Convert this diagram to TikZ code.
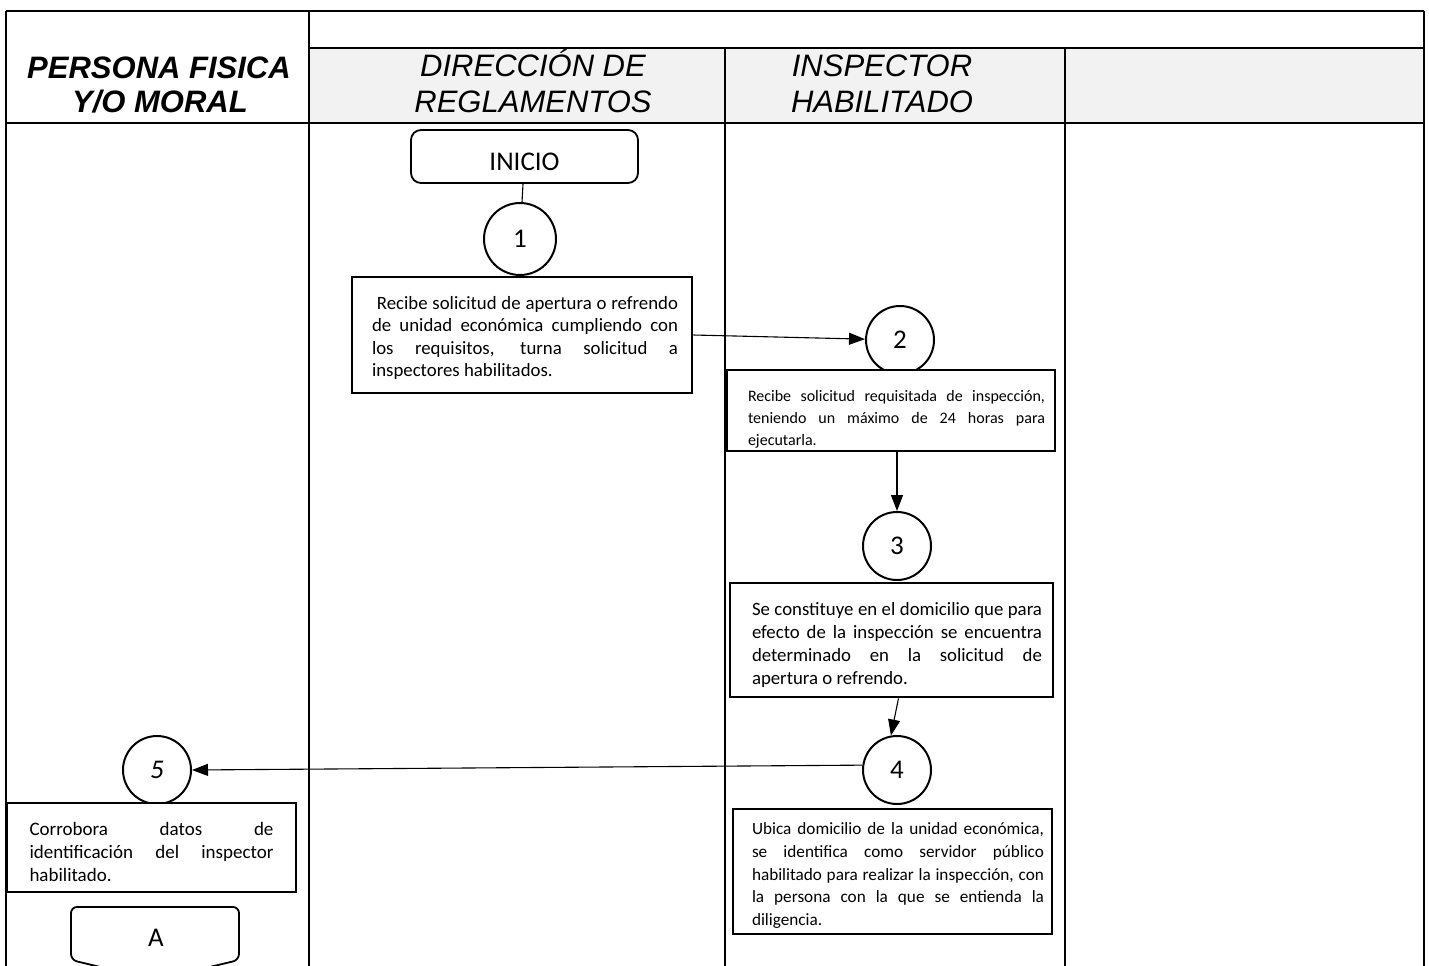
\documentclass[tikz,border=0pt]{standalone}
\usepackage{fontspec}
\setmainfont{Carlito}
\newfontfamily\arialfont{Liberation Sans}
\usetikzlibrary{arrows.meta,positioning}
\definecolor{headgray}{HTML}{F2F2F2}
\tolerance=10000 \hbadness=10000 \hyphenpenalty=10000

\begin{document}
\begin{tikzpicture}[x=1pt, y=-1pt,
    grid/.style = {line width=1.6pt},
    head/.style = {inner sep=0pt, anchor=base, font=\arialfont\itshape\fontsize{31}{35}\selectfont},
    main/.style = {draw, circle, fill=white, line width=2pt, minimum size=68pt, inner sep=0pt, font=\fontsize{27}{30}\selectfont},
    task/.style = {draw, fill=white, line width=2.6pt, inner sep=0pt, align=justify},
    pad/.style 2 args = {execute at begin node={\leftskip=#1\noindent\rule{0pt}{#2}}},
    link/.style = {line width=1.1pt},
    flow/.style = {link, -{Triangle[length=16pt, width=12pt]}}]
  \useasboundingbox (0,0) rectangle (1429,966);

  % table
  \fill[headgray] (309,48) rectangle (1424,123);
  \draw[grid] (6,11) -- (1424,11);
  \draw[grid] (309,48) -- (1424,48);
  \draw[grid] (6,123) -- (1424,123);
  \foreach \x in {6,309,1424} \draw[grid] (\x,11) -- (\x,966);
  \foreach \x in {725,1065} \draw[grid] (\x,48) -- (\x,966);

  \node[head, font=\arialfont\bfseries\itshape\fontsize{31}{35}\selectfont] (persona1) at (159,78) {PERSONA FISICA};
  \node[head, font=\arialfont\bfseries\itshape\fontsize{31}{35}\selectfont] (persona2) at (160,112) {Y/O MORAL};
  \node[head] (direccion1) at (533,77) {DIRECCIÓN DE};
  \node[head] (direccion2) at (533,112) {REGLAMENTOS};
  \node[head] (inspector1) at (882,77) {INSPECTOR};
  \node[head] (inspector2) at (882,112) {HABILITADO};

  % flow
  \node[draw, rounded corners=10pt, line width=1.8pt, minimum width=227pt, minimum height=53pt,
        inner sep=0pt, text height=27pt, text depth=0pt, font=\fontsize{27}{30}\selectfont] (inicio) at (524.5,156.5) {INICIO};
  \node[main, minimum size=72pt] (c1) at (520,239) {1};
  \node[main] (c2) at (900,340) {2};
  \node[main] (c3) at (897,546) {3};
  \node[main] (c4) at (897,770) {4};
  \node[main, font=\itshape\fontsize{27}{30}\selectfont] (c5) at (157,770) {5};

  \node[task, pad={6pt}{19pt}, text width=312pt, minimum width=340pt, minimum height=116pt, font=\fontsize{18.8}{22.5}\selectfont] (b1) at (522,335)
    {\ Recibe solicitud de apertura o refrendo\linebreak de unidad económica cumpliendo con\linebreak los requisitos, turna solicitud a\linebreak inspectores habilitados.};
  \node[task, pad={11pt}{29pt}, text width=308pt, minimum width=328pt, minimum height=81pt, font=\fontsize{16}{21.8}\selectfont] (b2) at (891,410.5)
    {Recibe solicitud requisitada de inspección,\linebreak teniendo un máximo de 24 horas para\linebreak ejecutarla.};
  \node[task, pad={11pt}{23pt}, text width=301pt, minimum width=323pt, minimum height=114pt, font=\fontsize{18.8}{23.3}\selectfont] (b3) at (891.5,640)
    {Se constituye en el domicilio que para\linebreak efecto de la inspección se encuentra\linebreak determinado en la solicitud de\linebreak apertura o refrendo.};
  \node[task, pad={11pt}{20pt}, text width=303pt, minimum width=319pt, minimum height=125pt, font=\fontsize{17.2}{22.8}\selectfont] (b4) at (892.5,871.5)
    {Ubica domicilio de la unidad económica,\linebreak se identifica como servidor público\linebreak habilitado para realizar la inspección, con\linebreak la persona con la que se entienda la\linebreak diligencia.};
  \node[task, pad={0pt}{23pt}, text width=244pt, minimum width=289pt, minimum height=89pt, font=\fontsize{19}{23}\selectfont] (b5) at (151.5,847.5)
    {Corrobora datos de\linebreak identificación del inspector\linebreak habilitado.};

  \node[inner sep=0pt, font=\fontsize{27}{30}\selectfont] (conA) at (156,938) {A};
  \draw[line width=1.8pt, rounded corners=6pt] (155,980) -- (71,960) -- (71,907) -- (239,907) -- (239,960) -- cycle;

  \draw[link] (inicio) -- (c1);
  \draw[flow] (b1.east) -- (c2);
  \draw[flow] (b2.south -| c3.north) -- (c3.north);
  \draw[flow] ([xshift=7pt]b3.south) -- (c4.100);
  \draw[flow] (c4.172) -- (c5.east);
\end{tikzpicture}
\end{document}
